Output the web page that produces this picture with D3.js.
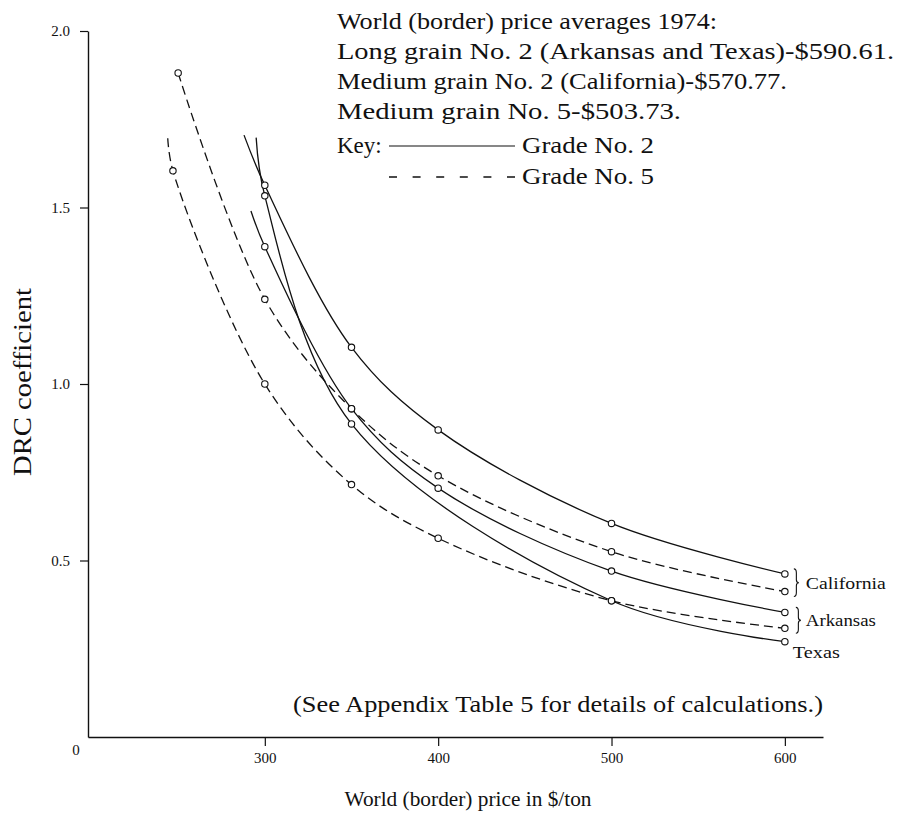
<!DOCTYPE html>
<html>
<head>
<meta charset="utf-8">
<script src="https://cdn.jsdelivr.net/npm/d3@7"></script>
<style>
  body { margin: 0; background: #fff; }
  svg { display: block; font-family: "Liberation Serif", "DejaVu Serif", serif; }
  text { fill: #111; }
</style>
</head>
<body>
<svg width="903" height="813"></svg>
<script>
// tick values
var priceTicks = [300, 400, 500, 600];
var coefTicks = [0.5, 1.0, 1.5, 2.0];

// the five curves: grade 2 solid, grade 5 dashed
var seriesNames = ['California No. 2', 'Arkansas No. 2', 'Texas No. 2', 'California No. 5', 'Arkansas No. 5'];
var seriesGrade = [2, 2, 2, 5, 5];
// where each drawn curve starts (no marker there), null = starts on first marker
var startPrice = [288, 292, 295, null, 244];
var startCoef = [1.705, 1.49, 1.698, null, 1.696];
// marked points
var pointPrice = [
  [300, 350, 400, 500, 600],
  [300, 350, 400, 500, 600],
  [300, 350, 500, 600],
  [250, 300, 350, 400, 500, 600],
  [247, 300, 350, 400, 500, 600]
];
var pointCoef = [
  [1.563, 1.104, 0.870, 0.605, 0.462],
  [1.389, 0.930, 0.705, 0.470, 0.353],
  [1.533, 0.887, 0.386, 0.270],
  [1.881, 1.240, 0.930, 0.740, 0.525, 0.412],
  [1.604, 1.000, 0.715, 0.563, 0.386, 0.308]
];

var legendLines = [
  'World (border) price averages 1974:',
  'Long grain No. 2 (Arkansas and Texas)-$590.61.',
  'Medium grain No. 2 (California)-$570.77.',
  'Medium grain No. 5-$503.73.'
];
var legendWidths = [380, 557, 450, 344];

var svg = d3.select('svg');
var margin = {left: 88, top: 31, right: 80, bottom: 76};
var width = 903, height = 813;

var x = d3.scaleLinear().domain([198, 622]).range([margin.left, width - margin.right]);
var y = d3.scaleLinear().domain([0, 2]).range([height - margin.bottom, margin.top]);

// axes
var yAxis = d3.axisLeft(y).tickValues(coefTicks).tickSize(8).tickSizeOuter(0).tickPadding(10)
  .tickFormat(d3.format('.1f'));
var xAxis = d3.axisBottom(x).tickValues(priceTicks).tickSize(9).tickSizeOuter(0).tickPadding(6)
  .tickFormat(d3.format('d'));

var gy = svg.append('g').attr('transform', 'translate(' + margin.left + ',0)').call(yAxis);
var gx = svg.append('g').attr('transform', 'translate(0,' + y(0) + ')').call(xAxis);
[gx, gy].forEach(function (g) {
  g.select('.domain').attr('stroke', '#111').attr('stroke-width', 1.4);
  g.selectAll('.tick line').attr('stroke', '#111').attr('stroke-width', 1.2);
  g.selectAll('.tick text').attr('fill', '#222').style('font-size', '15px')
    .style('font-family', '"Liberation Serif", serif');
});

// origin label
svg.append('text')
  .attr('x', margin.left - 12).attr('y', y(0) + 18)
  .attr('text-anchor', 'middle').style('font-size', '15px')
  .text('0');

// curves
var line = d3.line()
  .x(function (d) { return x(d[0]); })
  .y(function (d) { return y(d[1]); })
  .curve(d3.curveCatmullRom.alpha(0.5));

seriesNames.forEach(function (name, i) {
  var pts = pointPrice[i].map(function (p, j) { return [p, pointCoef[i][j]]; });
  if (startPrice[i] != null) pts.unshift([startPrice[i], startCoef[i]]);
  svg.append('path')
    .attr('class', 'curve')
    .attr('d', line(pts))
    .attr('fill', 'none')
    .attr('stroke', '#111')
    .attr('stroke-width', 1.3)
    .attr('stroke-dasharray', seriesGrade[i] == 5 ? '9,5' : null);
});

// markers
seriesNames.forEach(function (name, i) {
  svg.selectAll('.m' + i)
    .data(pointPrice[i])
    .enter()
    .append('circle')
    .attr('class', 'm' + i)
    .attr('cx', function (d) { return x(d); })
    .attr('cy', function (d, j) { return y(pointCoef[i][j]); })
    .attr('r', 3.2)
    .attr('fill', '#fff')
    .attr('stroke', '#111')
    .attr('stroke-width', 1.1);
});

// state labels with braces at the right end
function brace(bx, y1, y2) {
  var mid = (y1 + y2) / 2, w = 2.5;
  return 'M' + bx + ',' + y1 + ' Q' + (bx + w) + ',' + y1 + ' ' + (bx + w) + ',' + (y1 + 4) +
    ' L' + (bx + w) + ',' + (mid - 3) + ' Q' + (bx + w) + ',' + mid + ' ' + (bx + 2 * w) + ',' + mid +
    ' Q' + (bx + w) + ',' + mid + ' ' + (bx + w) + ',' + (mid + 3) +
    ' L' + (bx + w) + ',' + (y2 - 4) + ' Q' + (bx + w) + ',' + y2 + ' ' + bx + ',' + y2;
}
var last = function (i) { return pointCoef[i][pointCoef[i].length - 1]; };
var bxPos = x(600) + 9;
svg.append('path').attr('d', brace(bxPos, y(last(0)) - 5, y(last(3)) + 5))
  .attr('fill', 'none').attr('stroke', '#111').attr('stroke-width', 1.1);
svg.append('path').attr('d', brace(bxPos + 2, y(last(1)) - 5, y(last(4)) + 5))
  .attr('fill', 'none').attr('stroke', '#111').attr('stroke-width', 1.1);

function wide(sel, len) {
  return sel.attr('textLength', len).attr('lengthAdjust', 'spacingAndGlyphs');
}
wide(svg.append('text').attr('x', bxPos + 12).attr('y', (y(last(0)) + y(last(3))) / 2 + 6)
  .style('font-size', '17px').text('California'), 80);
wide(svg.append('text').attr('x', bxPos + 12).attr('y', (y(last(1)) + y(last(4))) / 2 + 6)
  .style('font-size', '17px').text('Arkansas'), 70);
wide(svg.append('text').attr('x', x(600) + 8).attr('y', y(last(2)) + 16)
  .style('font-size', '17px').text('Texas'), 47);

// legend block
var lg = svg.append('g').style('font-size', '23px');
lg.selectAll('.lgl')
  .data(legendLines)
  .enter()
  .append('text')
  .attr('x', 337)
  .attr('y', function (d, i) { return 29 + i * 30; })
  .attr('textLength', function (d, i) { return legendWidths[i]; })
  .attr('lengthAdjust', 'spacingAndGlyphs')
  .text(function (d) { return d; });

lg.append('text').attr('x', 337).attr('y', 153).text('Key:');
lg.append('line').attr('x1', 389).attr('x2', 515).attr('y1', 146).attr('y2', 146)
  .attr('stroke', '#111').attr('stroke-width', 1.2);
wide(lg.append('text').attr('x', 522).attr('y', 153).text('Grade No. 2'), 132);
lg.append('line').attr('x1', 389).attr('x2', 515).attr('y1', 177).attr('y2', 177)
  .attr('stroke', '#111').attr('stroke-width', 1.3).attr('stroke-dasharray', '8,15.6');
wide(lg.append('text').attr('x', 522).attr('y', 184).text('Grade No. 5'), 132);

// note
wide(svg.append('text')
  .attr('x', 823).attr('y', 712)
  .attr('text-anchor', 'end')
  .style('font-size', '23px')
  .text('(See Appendix Table 5 for details of calculations.)'), 530);

// axis titles
wide(svg.append('text')
  .attr('x', 468).attr('y', 806)
  .attr('text-anchor', 'middle')
  .style('font-size', '21px')
  .text('World (border) price in $/ton'), 247);

wide(svg.append('text')
  .attr('transform', 'rotate(-90)')
  .attr('x', -382).attr('y', 31)
  .attr('text-anchor', 'middle')
  .style('font-size', '25px')
  .text('DRC coefficient'), 188);
</script>
</body>
</html>
